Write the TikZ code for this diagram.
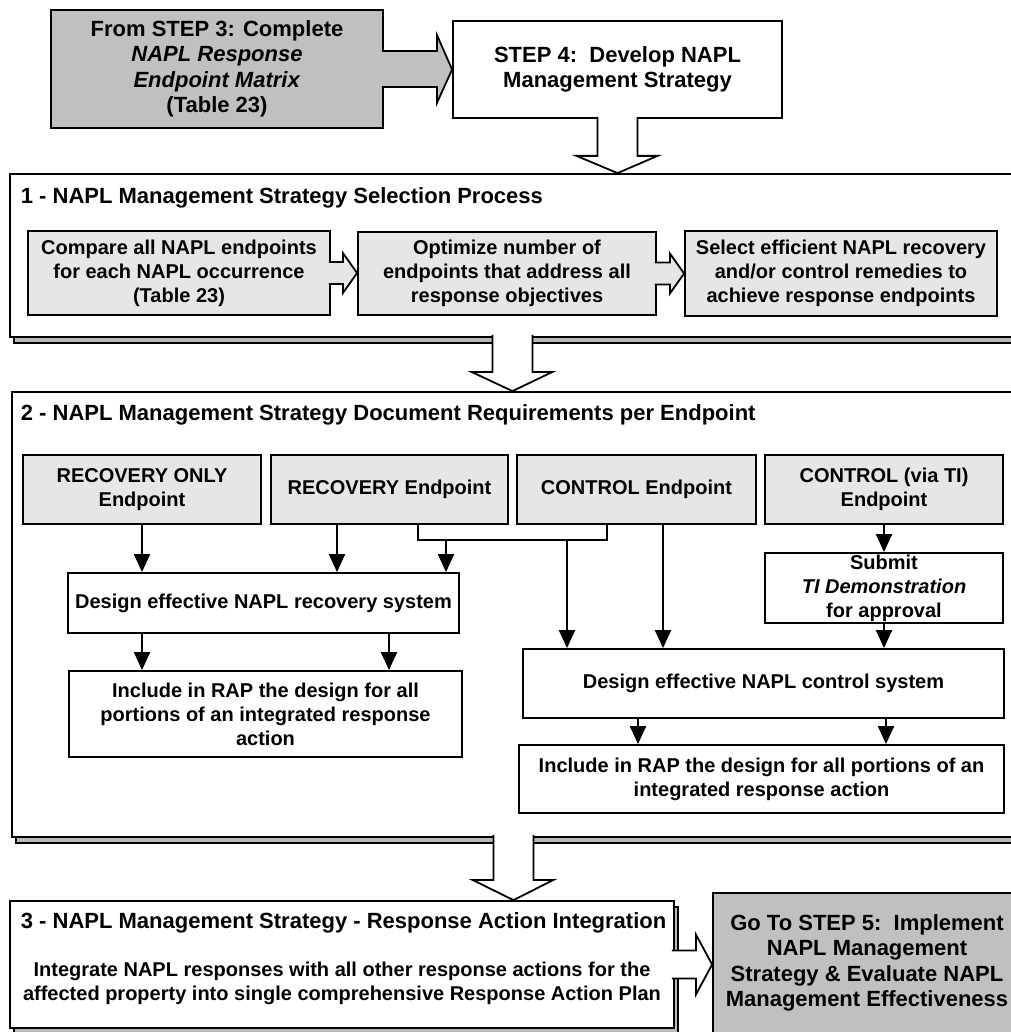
\documentclass[tikz,border=0pt]{standalone}
\usepackage{fontspec}
\setmainfont{Liberation Sans}
\usetikzlibrary{arrows.meta,calc,shadows}
\definecolor{darkfill}{HTML}{C0C0C0}
\definecolor{palefill}{HTML}{E6E6E6}

\begin{document}
\begin{tikzpicture}[x=1pt,y=-1pt]
	\tikzset{every node/.style=
        {line width=1.8pt, draw=black, fill=white, align=center, inner sep=0pt, font=\fontsize{20}{24}\selectfont\bfseries},
	  big/.style={font=\fontsize{22}{25.5}\selectfont\bfseries},
	  heading/.style={draw=none, fill=none, anchor=base west, font=\fontsize{22}{26}\selectfont\bfseries},
	  secframe/.style={copy shadow={shadow xshift=4pt, shadow yshift=-6pt, fill=gray!55, draw=black, line width=1.8pt}},
	  wire/.style={line width=2pt},
	  conn/.style={line width=2pt, -{Triangle[length=18pt,width=16pt]}},
	  block/.style={line width=1.8pt, line join=miter, draw=black, fill=white}
     }
	\useasboundingbox (0,0) rectangle (1010,1032);

	\node[secframe, minimum width=1005pt, minimum height=163pt] (sel) at (512.5,255.5) {};
	\node[secframe, minimum width=1003pt, minimum height=445pt] (doc) at (513.5,614.5) {};
	\node[secframe, minimum width=664pt, minimum height=127pt] (integ) at (342,964.5) {};

	\node[big, fill=darkfill, minimum width=332pt, minimum height=118pt] (from3) at (217,69) {From STEP 3: Complete\\ \textit{NAPL Response}\\ \textit{Endpoint Matrix}\\ (Table 23)};
	\node[big, minimum width=329pt, minimum height=97pt] (step4) at (617.5,69.5) {STEP 4:\ \ Develop NAPL\\Management Strategy};

	\node[heading] (selt) at (20,204) {1 - NAPL Management Strategy Selection Process};
	\node[fill=palefill, minimum width=302pt, minimum height=84pt] (sel1) at (179,273) {Compare all NAPL endpoints\\for each NAPL occurrence\\(Table 23)};
	\node[fill=palefill, minimum width=298pt, minimum height=83pt] (sel2) at (507,273.5) {Optimize number of\\endpoints that address all\\response objectives};
	\node[fill=palefill, minimum width=312pt, minimum height=85pt] (sel3) at (841,273.5) {Select efficient NAPL recovery\\and/or control remedies to\\achieve response endpoints};

	\node[heading] (doct) at (20,420) {2 - NAPL Management Strategy Document Requirements per Endpoint};
	\node[fill=palefill, minimum width=238pt, minimum height=69pt] (ep1) at (142,489.5) {RECOVERY ONLY\\Endpoint};
	\node[fill=palefill, minimum width=237pt, minimum height=69pt] (ep2) at (389.5,489.5) {RECOVERY Endpoint};
	\node[fill=palefill, minimum width=239pt, minimum height=69pt] (ep3) at (636.5,489.5) {CONTROL Endpoint};
	\node[fill=palefill, minimum width=238pt, minimum height=69pt] (ep4) at (884,489.5) {CONTROL (via TI)\\Endpoint};
	\node[minimum width=391pt, minimum height=60pt] (recdes) at (263.5,603) {Design effective NAPL recovery system};
	\node[minimum width=393pt, minimum height=86pt] (recrap) at (265.5,714) {Include in RAP the design for all\\portions of an integrated response\\action};
	\node[minimum width=238pt, minimum height=70pt] (tidemo) at (884,588) {Submit\\\textit{TI Demonstration}\\for approval};
	\node[minimum width=481pt, minimum height=69pt] (ctldes) at (763.5,683.5) {Design effective NAPL control system};
	\node[minimum width=485pt, minimum height=68pt] (ctlrap) at (761.5,779) {Include in RAP the design for all portions of an\\integrated response action};

	\node[heading] (integt) at (20,928) {3 - NAPL Management Strategy - Response Action Integration};
	\node[draw=none, fill=none] (integb) at (342,983) {Integrate NAPL responses with all other response actions for the\\affected property into single comprehensive Response Action Plan};
	\node[big, fill=darkfill, minimum width=308pt, minimum height=140pt] (step5) at (867,963) {Go To STEP 5:\ \ Implement\\NAPL Management\\Strategy \& Evaluate NAPL\\Management Effectiveness};

	\draw[block, fill=darkfill] ($(from3.east)+(-2,-18)$) -- ($(from3.east)+(53,-18)$) -- ($(from3.east)+(53,-34)$) -- (step4.west) -- ($(from3.east)+(53,34)$) -- ($(from3.east)+(53,18)$) -- ($(from3.east)+(-2,18)$);
	\draw[block] ($(step4.south)+(-20,-2)$) -- ($(step4.south)+(-20,37)$) -- ($(step4.south)+(-41,37)$) -- (step4.south |- sel.north) -- ($(step4.south)+(40,37)$) -- ($(step4.south)+(20,37)$) -- ($(step4.south)+(20,-2)$);
	\draw[block, fill=palefill] ($(sel1.east)+(-2,-11)$) -- ($(sel1.east)+(12,-11)$) -- ($(sel1.east)+(12,-20)$) -- (sel2.west |- sel1.east) -- ($(sel1.east)+(12,20)$) -- ($(sel1.east)+(12,11)$) -- ($(sel1.east)+(-2,11)$);
	\draw[block, fill=palefill] ($(sel2.east)+(-2,-11)$) -- ($(sel2.east)+(13,-11)$) -- ($(sel2.east)+(13,-20)$) -- (sel3.west |- sel2.east) -- ($(sel2.east)+(13,20)$) -- ($(sel2.east)+(13,11)$) -- ($(sel2.east)+(-2,11)$);
	\draw[block] ($(sel.south)+(-20,-3)$) -- ($(sel.south)+(-20,34)$) -- ($(sel.south)+(-41,34)$) -- (sel.south |- doc.north) -- ($(sel.south)+(40,34)$) -- ($(sel.south)+(20,34)$) -- ($(sel.south)+(20,-3)$);
	\draw[block] ($(doc.south)+(-20,-3)$) -- ($(doc.south)+(-20,42)$) -- ($(doc.south)+(-41,42)$) -- (doc.south |- integ.north) -- ($(doc.south)+(40,42)$) -- ($(doc.south)+(20,42)$) -- ($(doc.south)+(20,-3)$);
	\draw[block] ($(integ.east)+(-3,-14)$) -- ($(integ.east)+(21,-14)$) -- ($(integ.east)+(21,-30)$) -- (step5.west |- integ.east) -- ($(integ.east)+(21,30)$) -- ($(integ.east)+(21,14)$) -- ($(integ.east)+(-3,14)$);

	\coordinate (jl) at (418,540);
	\coordinate (jr) at (607,540);
	\draw[conn] (ep1.south) -- (ep1.south |- recdes.north);
	\draw[conn] (ep2.south -| 337,0) -- (recdes.north -| 337,0);
	\draw[wire] (ep2.south -| jl) -- (jl) -- (jr) -- (ep3.south -| jr);
	\draw[conn] (jl -| 446,0) -- (recdes.north -| 446,0);
	\draw[conn] (jl -| 567,0) -- (ctldes.north -| 567,0);
	\draw[conn] (ep3.south -| 663,0) -- (ctldes.north -| 663,0);
	\draw[conn] (ep4.south) -- (tidemo.north);
	\draw[conn] (tidemo.south) -- (tidemo.south |- ctldes.north);
	\draw[conn] (recdes.south -| 142,0) -- (recrap.north -| 142,0);
	\draw[conn] (recdes.south -| 389,0) -- (recrap.north -| 389,0);
	\draw[conn] (ctldes.south -| 638,0) -- (ctlrap.north -| 638,0);
	\draw[conn] (ctldes.south -| 886,0) -- (ctlrap.north -| 886,0);
\end{tikzpicture}
\end{document}
